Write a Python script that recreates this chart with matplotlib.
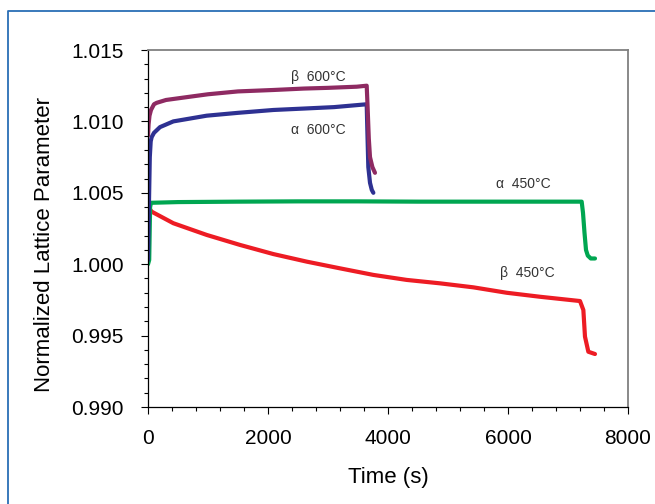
import numpy as np
import matplotlib
matplotlib.use("Agg")
import matplotlib.pyplot as plt
from matplotlib.ticker import MultipleLocator, FormatStrFormatter
from matplotlib.lines import Line2D

plt.rcParams['font.family'] = ['Liberation Sans', 'DejaVu Sans']

# beta phase, 600 C
t_b600 = [0, 10, 25, 50, 100, 144, 300, 700, 1000, 1500, 2090, 2600, 3000, 3480, 3645, 3660, 3680, 3700, 3740, 3783]
v_b600 = [1.0090, 1.0098, 1.0104, 1.0108, 1.0112, 1.0113, 1.0115, 1.01173, 1.0119, 1.0121, 1.0122, 1.0123, 1.01235, 1.01243,
          1.0125, 1.0110, 1.0088, 1.0075, 1.0068, 1.0064]

# alpha phase, 600 C
t_a600 = [0, 15, 30, 45, 61, 100, 200, 422, 700, 978, 1500, 2089, 2600, 3100, 3645, 3655, 3672, 3700, 3730, 3756]
v_a600 = [1.0003, 1.0040, 1.0075, 1.0086, 1.0089, 1.0092, 1.0096, 1.0100, 1.0102, 1.0104, 1.0106, 1.0108, 1.0109, 1.0110,
          1.0112, 1.0095, 1.0068, 1.0057, 1.0052, 1.0050]

# alpha phase, 450 C
t_a450 = [0, 20, 35, 50, 500, 1500, 2500, 3500, 4500, 5500, 6500, 7228, 7250, 7275, 7300, 7330, 7380, 7450]
v_a450 = [1.0000, 1.0003, 1.0040, 1.0043, 1.00435, 1.00438, 1.00440, 1.00440, 1.00438, 1.00438, 1.00438, 1.00438,
          1.0036, 1.0022, 1.0010, 1.0006, 1.0004, 1.0004]

# beta phase, 450 C
t_b450 = [40, 61, 422, 978, 1533, 2089, 2645, 3200, 3756, 4311, 4867, 5422, 5978, 6533, 7200, 7256, 7283, 7339, 7450]
v_b450 = [1.0038, 1.00368, 1.00287, 1.00205, 1.00135, 1.00071, 1.00018, 0.99971, 0.99925, 0.99890, 0.99866, 0.99838,
          0.99800, 0.99772, 0.99742, 0.99679, 0.99493, 0.99387, 0.99371]

fig = plt.figure(figsize=(6.55, 5.04), dpi=100)
ax = fig.add_axes([148/655, 1-407/504, 480/655, 357/504])

ax.plot(t_b450, v_b450, color='#ED1C24', lw=3, solid_capstyle='round')
ax.plot(t_a450, v_a450, color='#00A651', lw=3, solid_capstyle='round')
ax.plot(t_a600, v_a600, color='#2E3192', lw=3, solid_capstyle='round')
ax.plot(t_b600, v_b600, color='#8E2A62', lw=3, solid_capstyle='round')

ax.set_xlim(0, 8000)
ax.set_ylim(0.990, 1.015)
ax.xaxis.set_major_locator(MultipleLocator(2000))
ax.xaxis.set_minor_locator(MultipleLocator(400))
ax.yaxis.set_major_locator(MultipleLocator(0.005))
ax.yaxis.set_minor_locator(MultipleLocator(0.001))
ax.yaxis.set_major_formatter(FormatStrFormatter('%.3f'))
ax.tick_params(which='both', direction='out', labelsize=15, colors='black')
ax.tick_params(which='major', length=5, width=0.8, pad=11)
ax.tick_params(which='minor', length=3, width=0.8)
ax.tick_params(axis='y', which='major', pad=12.5)
for s in ['top', 'right']:
    ax.spines[s].set_color('#808080')
    ax.spines[s].set_linewidth(1.3)
for s in ['left', 'bottom']:
    ax.spines[s].set_linewidth(0.9)

txt = dict(fontsize=10, color='#333333', ha='center', va='center')
ax.text(2833, 1.0131, 'β  600°C', **txt)
ax.text(2833, 1.0094, 'α  600°C', **txt)
ax.text(6250, 1.00562, 'α  450°C', **txt)
ax.text(6317, 0.99938, 'β  450°C', **txt)

fig.text(388/655, 1-478/504, 'Time (s)', fontsize=16, ha='center', va='center')
fig.text(45/655, 1-245/504, 'Normalized Lattice Parameter', fontsize=16, rotation=90,
         ha='center', va='center')

# blue frame on top and left
fig.add_artist(Line2D([8/655, 8/655, 1], [0, 1-10.5/504, 1-10.5/504], color='#2A6EB5', lw=1.3,
                      transform=fig.transFigure))

fig.savefig('out.png', dpi=100)
